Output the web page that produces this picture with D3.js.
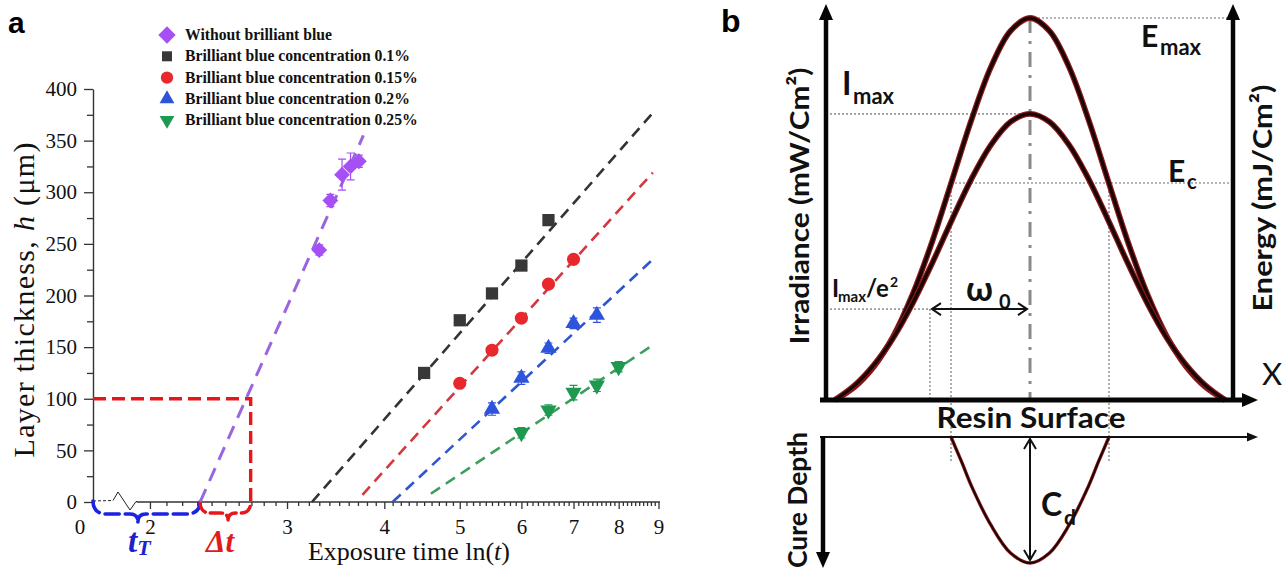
<!DOCTYPE html>
<html><head><meta charset="utf-8">
<script src="https://cdn.jsdelivr.net/npm/d3@7"></script>
<style>body{margin:0;background:#fff}svg{display:block}</style>
</head><body>
<svg id="c" width="1285" height="575"></svg>
<script>
// ================= Panel a data =================
const xTicksA = [2,3,4,5,6,7,8,9];
const yTicksA = [0,50,100,150,200,250,300,350,400];
const seriesNames = ["Without brilliant blue","Brilliant blue concentration 0.1%","Brilliant blue concentration 0.15%","Brilliant blue concentration 0.2%","Brilliant blue concentration 0.25%"];
const purpleX = [3.30,3.41,3.53,3.62,3.71];
const purpleY = [244,292,317,325,330];
const purpleErr = [5,6,15,13,6];
const blackX = [4.5,5,5.5,6,6.5];
const blackY = [125,176,202,229,273];
const blackErr = [3,3,3,4,5];
const redX = [5,5.5,6,6.5,7];
const redY = [115,147,178,211,235];
const redErr = [4,3,4,4,4];
const blueX = [5.5,6,6.5,7,7.5];
const blueY = [90,120,149,173,181];
const blueErr = [6,6,5,5,7];
const greenX = [6,6.5,7,7.5,8];
const greenY = [67,89,106,113,131];
const greenErr = [5,5,7,6,5];
const purpleFit = [[2.32,0],[3.76,355]];
const blackFit = [[3.23,0],[8.85,377]];
const redFit = [[3.75,7],[8.85,319]];
const blueFit = [[4.10,0],[8.85,235]];
const greenFit = [[4.59,8],[8.85,152]];
const thresholdH = 100;
const tTRange = [1.69, 2.32, 1.93];      // start, end, tip
const deltaTRange = [2.32, 2.694, 2.52]; // start, end, tip

// ================= Panel b data =================
const bPos = [-1,-0.9,-0.8,-0.7,-0.6,-0.5,-0.4,-0.3,-0.2,-0.1,0,0.1,0.2,0.3,0.4,0.5,0.6,0.7,0.8,0.9,1];
const energyProfile = [0,0.034,0.088,0.168,0.279,0.417,0.575,0.734,0.872,0.966,1,0.966,0.872,0.734,0.575,0.417,0.279,0.168,0.088,0.034,0];
const irradianceProfile = [0,0.038,0.092,0.164,0.255,0.360,0.472,0.579,0.668,0.728,0.749,0.728,0.668,0.579,0.472,0.360,0.255,0.164,0.092,0.038,0];
const curePos = [-0.405,-0.35,-0.3,-0.2,-0.1,0,0.1,0.2,0.3,0.35,0.405];
const cureDepth = [0,0.2,0.39,0.7,0.92,1,0.92,0.7,0.39,0.2,0];
const levelEmax = 1, levelImax = 0.749, levelEc = 0.568, levelIe2 = 0.238;
const posW0 = -0.513, posEc = 0.405;

// ================= Drawing =================
const svg = d3.select("#c");
const serif = "'Liberation Serif','Times New Roman',serif";
const sans = "Lato,'Noto Sans',sans-serif";

// ---------- Panel a ----------
const xA = d3.scaleLog().domain([1.69, 9.04]).range([93, 660]);
const yA = d3.scaleLinear().domain([0, 400]).range([502, 89]);
const A = svg.append("g");

svg.append("text").attr("x", 8).attr("y", 33).text("a")
  .attr("font-family", "'Liberation Sans',Arial,sans-serif").attr("font-weight", "bold").attr("font-size", 30);

// y axis
const yAxis = A.append("g").attr("transform", "translate(93,0)")
  .call(d3.axisLeft(yA).tickValues(yTicksA).tickSize(9).tickSizeOuter(0).tickPadding(7));
A.append("g").attr("transform", "translate(93,0)")
  .call(d3.axisLeft(yA).tickValues(d3.range(25, 400, 50)).tickSize(6).tickFormat(""))
  .select(".domain").remove();
// x axis (broken near origin)
const xAxis = A.append("g").attr("transform", "translate(0,502)")
  .call(d3.axisBottom(xA).tickValues(xTicksA).tickSize(7).tickPadding(10).tickFormat(d3.format("d")));
xAxis.select(".domain").remove();
const minorX = d3.range(20, 91).map(v => v / 10).filter(v => Math.abs(v - Math.round(v)) > 1e-6);
A.append("g").attr("transform", "translate(0,502)")
  .call(d3.axisBottom(xA).tickValues(minorX).tickSize(4).tickFormat(""))
  .select(".domain").remove();
A.append("line").attr("x1", xA(2.01) - 15).attr("x2", xA.range()[1]).attr("y1", 502).attr("y2", 502)
  .attr("stroke", "#333").attr("stroke-width", 1.4);
// axis break: thin dashed + zigzag
A.append("path").attr("d", `M93,501 L113,500.5`).attr("stroke", "#222").attr("stroke-width", 1).attr("stroke-dasharray", "3,2").attr("fill", "none");
A.append("path").attr("d", `M113,500.5 L118,492 L130,510 L136,501.5 L137,501.5`).attr("stroke", "#222").attr("stroke-width", 1).attr("fill", "none");

[yAxis, xAxis].forEach(g => {
  g.selectAll("text").attr("font-family", serif).attr("font-size", 21).attr("fill", "#111");
  g.selectAll("line,path").attr("stroke", "#333").attr("stroke-width", 1.4);
});
A.selectAll(".tick line").attr("stroke", "#333").attr("stroke-width", 1.3);
A.append("text").attr("x", 80).attr("y", 534).attr("text-anchor", "middle")
  .attr("font-family", serif).attr("font-size", 21).attr("fill", "#111").text("0");

// axis titles
const yt = A.append("text").attr("transform", "translate(34,300) rotate(-90)").attr("text-anchor", "middle")
  .attr("font-family", serif).attr("font-size", 30).attr("fill", "#111").attr("textLength", 315);
yt.append("tspan").text("Layer thickness, ");
yt.append("tspan").attr("font-style", "italic").text("h");
yt.append("tspan").text(" (μm)");
const xt = A.append("text").attr("x", 409).attr("y", 560).attr("text-anchor", "middle")
  .attr("font-family", serif).attr("font-size", 26).attr("fill", "#111").attr("textLength", 202);
xt.append("tspan").text("Exposure time ln(");
xt.append("tspan").attr("font-style", "italic").text("t");
xt.append("tspan").text(")");

// red threshold guide
const xDT = xA(deltaTRange[1]);
A.append("path").attr("d", `M${xA.range()[0]},${yA(thresholdH)} H${xDT} V${yA(0) + 2}`)
  .attr("fill", "none").attr("stroke", "#e8161b").attr("stroke-width", 3.4).attr("stroke-dasharray", "13,6");

// braces
function brace(x0, x1, xm, y0, d, tip, r) {
  return `M${x0},${y0} Q${x0},${y0 + d} ${x0 + r},${y0 + d} L${xm - 8},${y0 + d} Q${xm},${y0 + d} ${xm},${y0 + tip} ` +
         `M${xm},${y0 + tip} Q${xm},${y0 + d} ${xm + 8},${y0 + d} L${x1 - r},${y0 + d} Q${x1},${y0 + d} ${x1},${y0}`;
}
A.append("path").attr("d", brace(xA(tTRange[0]), xA(tTRange[1]), xA(tTRange[2]), 501, 13, 21, 14))
  .attr("fill", "none").attr("stroke", "#1b22e0").attr("stroke-width", 3.6).attr("stroke-dasharray", "14,6").attr("stroke-linecap", "round");
A.append("path").attr("d", brace(xA(deltaTRange[0]), xA(deltaTRange[1]), xA(deltaTRange[2]), 502, 11, 18, 10))
  .attr("fill", "none").attr("stroke", "#e8161b").attr("stroke-width", 3.4).attr("stroke-dasharray", "12,5").attr("stroke-linecap", "round");

const tl = A.append("text").attr("x", 128).attr("y", 552).attr("font-family", serif)
  .attr("font-weight", "bold").attr("font-style", "italic").attr("fill", "#1b22c8");
tl.append("tspan").attr("font-size", 33).text("t");
tl.append("tspan").attr("font-size", 22).attr("dy", 3).text("T");
A.append("text").attr("x", 206).attr("y", 552).attr("font-family", serif)
  .attr("font-weight", "bold").attr("font-style", "italic").attr("font-size", 31).attr("fill", "#e01b1b").text("Δt");

// series
const series = [
  {x: purpleX, y: purpleY, e: purpleErr, fit: purpleFit, mc: "#a54ff5", lc: "#9a66e0", sym: d3.symbolSquare, size: 125, rot: 45, dash: "14,9", lw: 3},
  {x: blackX, y: blackY, e: blackErr, fit: blackFit, mc: "#383838", lc: "#333", sym: d3.symbolSquare, size: 150, rot: 0, dash: "11,7", lw: 2.6},
  {x: redX, y: redY, e: redErr, fit: redFit, mc: "#e8282c", lc: "#d6363e", sym: d3.symbolCircle, size: 135, rot: 0, dash: "11,7", lw: 2.6},
  {x: blueX, y: blueY, e: blueErr, fit: blueFit, mc: "#2f54dc", lc: "#2f55cf", sym: d3.symbolTriangle, size: 115, rot: 0, dash: "11,7", lw: 2.6},
  {x: greenX, y: greenY, e: greenErr, fit: greenFit, mc: "#1f9850", lc: "#3d9e5e", sym: d3.symbolTriangle, size: 115, rot: 180, dash: "11,7", lw: 2.6}
];
const lineA = d3.line().x(d => xA(d[0])).y(d => yA(d[1]));
series.forEach(s => {
  A.append("path").attr("d", lineA(s.fit)).attr("fill", "none").attr("stroke", s.lc)
    .attr("stroke-width", s.lw).attr("stroke-dasharray", s.dash);
});
series.forEach(s => {
  const g = A.append("g");
  s.x.forEach((xv, i) => {
    const px = xA(xv), y1 = yA(s.y[i] + s.e[i]), y2 = yA(s.y[i] - s.e[i]);
    g.append("path").attr("d", `M${px},${y1}V${y2}M${px - 4},${y1}H${px + 4}M${px - 4},${y2}H${px + 4}`)
      .attr("stroke", s.mc).attr("stroke-width", 1.2).attr("fill", "none");
    g.append("path").attr("d", d3.symbol().type(s.sym).size(s.size)())
      .attr("transform", `translate(${px},${yA(s.y[i])}) rotate(${s.rot})`).attr("fill", s.mc);
  });
});

// legend
const legY = [35, 56.3, 77.6, 98.9, 120.2];
const legSize = [150, 100, 120, 95, 95];
series.forEach((s, i) => {
  A.append("path").attr("d", d3.symbol().type(s.sym).size(legSize[i])())
    .attr("transform", `translate(167,${legY[i]}) rotate(${s.rot})`).attr("fill", s.mc);
  A.append("text").attr("x", 185).attr("y", legY[i]).attr("dy", "0.33em")
    .attr("font-family", serif).attr("font-weight", "bold").attr("font-size", 15.7).attr("fill", "#111")
    .text(seriesNames[i]);
});

// ---------- Panel b ----------
const B = svg.append("g");
const xB = d3.scaleLinear().domain([-1, 1]).range([835, 1225]);
const yB = d3.scaleLinear().domain([0, 1]).range([400, 18]);
const yC = d3.scaleLinear().domain([0, 1]).range([437, 563]);
const leftX = 826, rightX = 1233, endX = 1258, startX = 820;

svg.append("text").attr("x", 721).attr("y", 32).text("b")
  .attr("font-family", "'Liberation Sans',Arial,sans-serif").attr("font-weight", "bold").attr("font-size", 32);

// dotted guides
const dot = g => g.attr("stroke", "#9a9a9a").attr("stroke-width", 1.6).attr("stroke-dasharray", "2,2").attr("fill", "none");
B.append("line").attr("x1", xB(0)).attr("x2", rightX).attr("y1", yB(levelEmax)).attr("y2", yB(levelEmax)).call(dot);
B.append("line").attr("x1", leftX).attr("x2", xB(0)).attr("y1", yB(levelImax)).attr("y2", yB(levelImax)).call(dot);
B.append("line").attr("x1", xB(-posEc)).attr("x2", rightX).attr("y1", yB(levelEc)).attr("y2", yB(levelEc)).call(dot);
B.append("line").attr("x1", leftX).attr("x2", xB(posW0)).attr("y1", yB(levelIe2)).attr("y2", yB(levelIe2)).call(dot);
B.append("line").attr("x1", xB(posW0)).attr("x2", xB(posW0)).attr("y1", yB(levelIe2)).attr("y2", yB(0)).call(dot);
[-posEc, posEc].forEach(p => B.append("line").attr("x1", xB(p)).attr("x2", xB(p))
  .attr("y1", yB(levelEc)).attr("y2", yC(0.2)).call(dot));

// center dash-dot
B.append("line").attr("x1", xB(0)).attr("x2", xB(0)).attr("y1", yB(levelEmax)).attr("y2", yB(0))
  .attr("stroke", "#8a8a8a").attr("stroke-width", 3).attr("stroke-dasharray", "15,8,3,8");

// curves
const lineB = d3.line().x((d, i) => xB(bPos[i])).y(d => yB(d)).curve(d3.curveCatmullRom.alpha(0.5));
[energyProfile, irradianceProfile].forEach(p => {
  B.append("path").attr("d", lineB(p)).attr("fill", "none").attr("stroke", "#8e1a1a").attr("stroke-width", 5.8);
  B.append("path").attr("d", lineB(p)).attr("fill", "none").attr("stroke", "#1c0505").attr("stroke-width", 3.4);
});
const lineC = d3.line().x((d, i) => xB(curePos[i])).y(d => yC(d)).curve(d3.curveCatmullRom.alpha(0.5));
B.append("path").attr("d", lineC(cureDepth)).attr("fill", "none").attr("stroke", "#8e1a1a").attr("stroke-width", 3.4);
B.append("path").attr("d", lineC(cureDepth)).attr("fill", "none").attr("stroke", "#1c0505").attr("stroke-width", 1.8);

// axes
const blk = "#050505";
B.append("line").attr("x1", leftX).attr("x2", leftX).attr("y1", yB(0) + 2).attr("y2", 16).attr("stroke", blk).attr("stroke-width", 4.5);
B.append("path").attr("d", `M${leftX},4 L${leftX - 7},20 L${leftX + 7},20Z`).attr("fill", blk);
B.append("line").attr("x1", rightX).attr("x2", rightX).attr("y1", yB(0) + 2).attr("y2", 16).attr("stroke", blk).attr("stroke-width", 4.5);
B.append("path").attr("d", `M${rightX},4 L${rightX - 7},20 L${rightX + 7},20Z`).attr("fill", blk);
B.append("line").attr("x1", startX).attr("x2", endX - 10).attr("y1", yB(0)).attr("y2", yB(0)).attr("stroke", blk).attr("stroke-width", 5);
B.append("path").attr("d", `M${endX},${yB(0)} L${endX - 16},${yB(0) - 7} L${endX - 16},${yB(0) + 7}Z`).attr("fill", blk);
B.append("line").attr("x1", startX).attr("x2", endX - 8).attr("y1", yC(0)).attr("y2", yC(0)).attr("stroke", "#111").attr("stroke-width", 2);
B.append("path").attr("d", `M${endX},${yC(0)} L${endX - 11},${yC(0) - 4.5} L${endX - 11},${yC(0) + 4.5}Z`).attr("fill", "#111");
B.append("line").attr("x1", 823).attr("x2", 823).attr("y1", yC(0) - 1).attr("y2", 555).attr("stroke", blk).attr("stroke-width", 4.5);
B.append("path").attr("d", `M823,568 L816,552 L830,552Z`).attr("fill", blk);

// double arrows
function dblArrowH(x0, x1, y) {
  B.append("path").attr("d", `M${x0},${y}H${x1}M${x0 + 9},${y - 6}L${x0},${y}L${x0 + 9},${y + 6}M${x1 - 9},${y - 6}L${x1},${y}L${x1 - 9},${y + 6}`)
    .attr("fill", "none").attr("stroke", "#111").attr("stroke-width", 2);
}
function dblArrowV(x, y0, y1) {
  B.append("path").attr("d", `M${x},${y0}V${y1}M${x - 6},${y0 + 10}L${x},${y0}L${x + 6},${y0 + 10}M${x - 6},${y1 - 10}L${x},${y1}L${x + 6},${y1 - 10}`)
    .attr("fill", "none").attr("stroke", "#111").attr("stroke-width", 2);
}
dblArrowH(xB(posW0) + 2, xB(0) - 3, yB(levelIe2));
dblArrowV(xB(0), yC(0) + 2, yC(1) - 3);

// labels
const T = (x, y, s, size, opts = {}) => {
  const t = B.append("text").attr("x", x).attr("y", y).attr("font-family", sans).attr("font-weight", opts.w || "bold")
    .attr("font-size", size).attr("fill", "#111").text(s);
  if (opts.anchor) t.attr("text-anchor", opts.anchor);
  if (opts.len) t.attr("textLength", opts.len).attr("lengthAdjust", "spacingAndGlyphs");
  return t;
};
T(0, 0, "Irradiance (mW/Cm²)", 27, {anchor: "middle", len: 277}).attr("transform", "translate(809,206) rotate(-90)");
T(0, 0, "Energy (mJ/Cm²)", 27, {anchor: "middle", len: 227}).attr("transform", "translate(1272,198) rotate(-90)");
T(0, 0, "Cure Depth", 27, {anchor: "middle", len: 136}).attr("transform", "translate(807,500) rotate(-90)");
T(1031, 428, "Resin Surface", 28, {anchor: "middle", len: 189});
T(1272, 385, "X", 31, {anchor: "middle", w: "normal"});
T(842, 95, "I", 32); T(853, 104, "max", 22);
T(1141, 47, "E", 30); T(1160, 55, "max", 22);
T(1168, 182, "E", 30); T(1187, 189, "c", 20);
T(832, 297, "I", 24); T(838, 302, "max", 15); T(866, 297, "/e", 24); T(890, 287, "2", 14);
T(966, 301, "ω", 34); T(999, 309, "0", 20);
T(1041, 516, "C", 32); T(1064, 525, "d", 21);
</script>
</body></html>
